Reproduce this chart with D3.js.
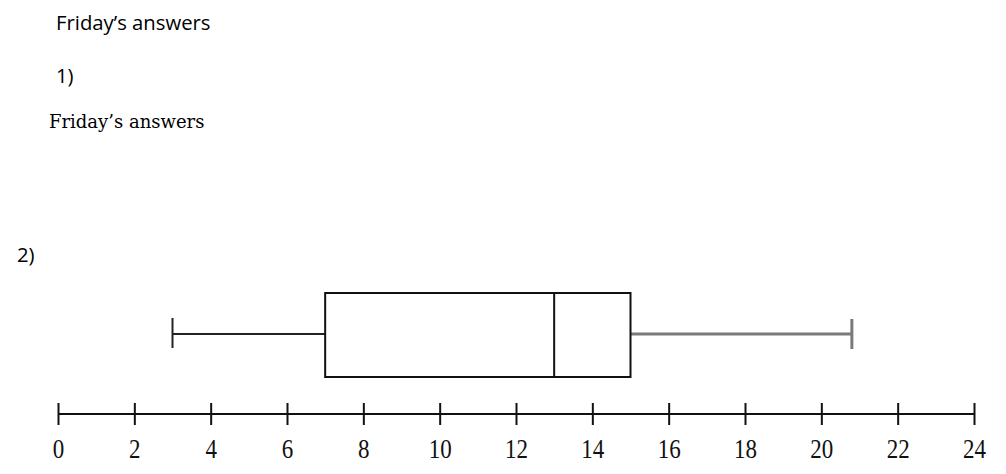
<!DOCTYPE html>
<html lang="en">
<head>
    <meta charset="UTF-8">
    <title>Friday's answers</title>
    <script src="https://d3js.org/d3.v7.min.js"></script>
    <style>
        body { margin: 0; background: #fff; }
        svg { display: block; }
    </style>
</head>
<body>
<script>
    // five number summary
    const summaryLabels = ["min", "q1", "median", "q3", "max"];
    const summaryValues = [3, 7, 13, 15, 20.8];
    const axisTicks = [0, 2, 4, 6, 8, 10, 12, 14, 16, 18, 20, 22, 24];
    const headings = ["Friday\u2019s answers", "1)", "Friday\u2019s answers", "2)"];

    const width = 1006, height = 474;
    const svg = d3.select("body").append("svg").attr("width", width).attr("height", height);

    const stat = {};
    summaryLabels.forEach((k, i) => stat[k] = summaryValues[i]);

    const x = d3.scaleLinear().domain([0, 24]).range([58, 974]);

    // headings
    const sans = "'Open Sans', sans-serif";
    svg.append("text").attr("x", 56).attr("y", 30)
        .style("font-family", sans).style("font-size", "20.3px")
        .text(headings[0]);
    svg.append("text").attr("x", 56).attr("y", 83)
        .style("font-family", sans).style("font-size", "20.3px")
        .text(headings[1]);
    svg.append("text").attr("x", 49).attr("y", 128)
        .style("font-family", "'DejaVu Serif', serif").style("font-size", "18px")
        .text(headings[2]);
    svg.append("text").attr("x", 17).attr("y", 262)
        .style("font-family", sans).style("font-size", "20.3px")
        .text(headings[3]);

    // number line
    const axisY = 414;
    const axis = svg.append("g").attr("transform", `translate(0,${axisY})`)
        .call(d3.axisBottom(x).tickValues(axisTicks).tickSizeOuter(0).tickFormat(d3.format("d")));
    axis.select(".domain").attr("stroke", "#111").attr("stroke-width", 2.2)
        .attr("d", `M${x(0)},0H${x(24)}`);
    axis.selectAll(".tick line").attr("stroke", "#111").attr("stroke-width", 2)
        .attr("y1", -11).attr("y2", 11);
    axis.selectAll(".tick text")
        .attr("y", 0).attr("dy", null)
        .attr("transform", "translate(0,44) scale(1,1.16)")
        .style("font-family", "'Liberation Serif', 'Times New Roman', serif")
        .style("font-size", "23px").attr("fill", "#111");

    // box plot
    const boxTop = 293, boxBottom = 377, mid = 334;
    const g = svg.append("g");

    g.append("line").attr("x1", x(stat.min)).attr("x2", x(stat.q1))
        .attr("y1", mid).attr("y2", mid).attr("stroke", "#222").attr("stroke-width", 2);
    g.append("line").attr("x1", x(stat.min)).attr("x2", x(stat.min))
        .attr("y1", 318).attr("y2", 348).attr("stroke", "#222").attr("stroke-width", 2);

    g.append("line").attr("x1", x(stat.q3)).attr("x2", x(stat.max))
        .attr("y1", mid).attr("y2", mid).attr("stroke", "#7a7a7a").attr("stroke-width", 3);
    g.append("line").attr("x1", x(stat.max)).attr("x2", x(stat.max))
        .attr("y1", 319).attr("y2", 349).attr("stroke", "#7a7a7a").attr("stroke-width", 3);

    g.append("rect").attr("x", x(stat.q1)).attr("y", boxTop)
        .attr("width", x(stat.q3) - x(stat.q1)).attr("height", boxBottom - boxTop)
        .attr("fill", "none").attr("stroke", "#111").attr("stroke-width", 2);
    g.append("line").attr("x1", x(stat.median)).attr("x2", x(stat.median))
        .attr("y1", boxTop).attr("y2", boxBottom).attr("stroke", "#111").attr("stroke-width", 2);
</script>
</body>
</html>
